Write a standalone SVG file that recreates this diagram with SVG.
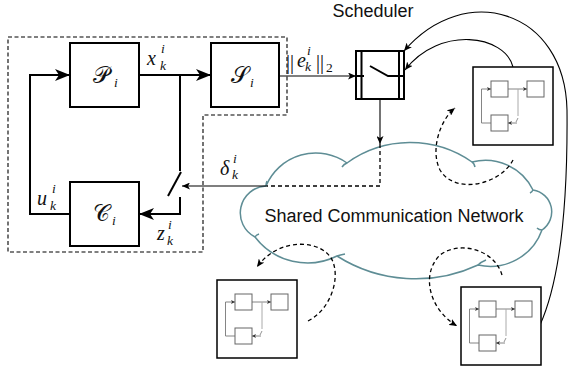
<svg xmlns="http://www.w3.org/2000/svg" width="569" height="373" viewBox="0 0 569 373">
  <style>
    .sans { font-family: "Liberation Sans", Arial, sans-serif; fill: #111; }
    .math { font-family: "Liberation Serif", "DejaVu Serif", serif; font-style: italic; fill: #111; font-size: 20px; }
    .cal { font-family: "DejaVu Serif", "Liberation Serif", serif; fill: #111; font-size: 23px; }
    .up { font-style: normal; }
    .s { font-size: 13.5px; }
    .box { fill: #fff; stroke: #000; stroke-width: 2; }
    .thick { fill: none; stroke: #000; stroke-width: 2; }
    .thin { fill: none; stroke: #000; stroke-width: 1.1; }
    .dash { fill: none; stroke: #000; stroke-width: 1.3; stroke-dasharray: 4 3; }
    .bound { fill: none; stroke: #000; stroke-width: 1.1; stroke-dasharray: 4 2.5; }
    .cloud { fill: #fff; stroke: #5e8d95; stroke-width: 1.5; }
    .cloudtail { fill: none; stroke: #5e8d95; stroke-width: 1.5; }
    .mini { fill: #fff; stroke: #666; stroke-width: 1; }
    .miniline { fill: none; stroke: #777; stroke-width: 0.9; }
  </style>
  <defs>
    <!-- large stealth head for the loop signals -->
    <marker id="big" viewBox="0 0 15 12" refX="15" refY="6" markerWidth="15" markerHeight="12" markerUnits="userSpaceOnUse" orient="auto">
      <path d="M15,6 L0,0 L4,6 L0,12 Z" fill="#000"/>
    </marker>
    <!-- small head for thin links -->
    <marker id="small" viewBox="0 0 8 7" refX="8" refY="3.5" markerWidth="8" markerHeight="7" markerUnits="userSpaceOnUse" orient="auto">
      <path d="M8,3.5 L0,0 L2,3.5 L0,7 Z" fill="#000"/>
    </marker>
    <marker id="tiny" viewBox="0 0 4 4" refX="4" refY="2" markerWidth="4" markerHeight="4" markerUnits="userSpaceOnUse" orient="auto">
      <path d="M4,2 L0,0 L1,2 L0,4 Z" fill="#333"/>
    </marker>
    <!-- miniature control loop used for the other agents -->
    <symbol id="subloop" viewBox="0 0 80 78" width="80" height="78" overflow="visible">
      <rect x="0" y="0" width="80" height="78" fill="#fff" stroke="#000" stroke-width="1.5"/>
      <path class="miniline" d="M18,56 H8.5 V22 H18" marker-end="url(#tiny)"/>
      <path class="miniline" d="M35,22 H54" marker-end="url(#tiny)"/>
      <path d="M45,22 V49" fill="none" stroke="#aaa" stroke-width="1"/>
      <path d="M45,51 L43,55" fill="none" stroke="#777" stroke-width="0.8"/>
      <path class="miniline" d="M44,56 H35" marker-end="url(#tiny)"/>
      <rect class="mini" x="18" y="14" width="17" height="16"/>
      <rect class="mini" x="54" y="14" width="17" height="16"/>
      <rect class="mini" x="18" y="48" width="17" height="16"/>
    </symbol>
  </defs>

  <!-- shared network cloud -->
  <g id="network">
    <path class="cloud" d="M266,186 A54,54 0 0 1 347,163 A108,108 0 0 1 472,162 A53,53 0 0 1 533,190 A22,22 0 0 1 542,230 A55,55 0 0 1 478,265 A147,147 0 0 1 337,256 A66,66 0 0 1 255,237 A27,27 0 0 1 266,186 Z"/>
    <path class="cloudtail" d="M347,163 q-3,1 -5,4 M472,162 q2,1 3,5 M533,190 q-1,2 -3,3 M542,230 q-3,0 -5,-2 M478,265 q3,-3 8,-5 M337,256 q3,-1 8,-2 M255,237 q1,-2 4,-3 M266,186 q0,-3 1,-5"/>
    <text class="sans" x="394" y="222" font-size="18" text-anchor="middle">Shared Communication Network</text>
  </g>

  <!-- boundary of the local control loop -->
  <path class="bound" d="M8,37 H287 V115 H203 V252 H8 Z"/>

  <g id="connectors">
    <path class="thick" d="M70,214 H30 V75 H70" marker-end="url(#big)"/>
    <path class="thick" d="M139,75 H211" marker-end="url(#big)"/>
    <path class="thick" d="M180,75 V171"/>
    <path class="thick" d="M181,172 L168,196"/>
    <path class="thick" d="M180,197 V214 H139" marker-end="url(#big)"/>
    <path class="thin" d="M279,76 H356" marker-end="url(#small)"/>
    <path class="thin" d="M380,99 V144" stroke-width="1.3" marker-end="url(#small)"/>
    <path class="dash" d="M380,144 V186 H267"/>
    <path class="thin" d="M267,186 H182" marker-end="url(#small)"/>
    <path class="thin" d="M540,325 C558,285 568,220 567,110 C565,10 465,-20 404,51" marker-end="url(#small)"/>
    <path class="thin" d="M513,67 C505,35 440,25 405,70" marker-end="url(#small)"/>
    <path class="dash" d="M513,160 C500,185 455,195 440,170 C430,150 440,120 455,108" marker-end="url(#small)"/>
    <path class="dash" d="M308,321 C330,310 340,280 333,262 C325,240 280,235 257,267" marker-end="url(#small)"/>
    <path class="dash" d="M502,275 C495,250 460,240 440,255 C420,275 430,310 457,326" marker-end="url(#small)"/>
  </g>

  <g id="plant">
    <rect class="box" x="70" y="43" width="69" height="64"/>
    <text class="cal" x="93" y="83">𝒫</text>
    <text class="math s" x="114" y="87">i</text>
  </g>
  <g id="sensor">
    <rect class="box" x="211" y="43" width="68" height="64"/>
    <text class="cal" x="231" y="83">𝒮</text>
    <text class="math s" x="250" y="87">i</text>
  </g>
  <g id="controller">
    <rect class="box" x="70" y="182" width="69" height="64"/>
    <text class="cal" x="93" y="221">𝒞</text>
    <text class="math s" x="112" y="225">i</text>
  </g>

  <g id="scheduler">
    <rect class="box" x="356" y="51" width="48" height="48"/>
    <path class="thick" d="M361.5,51 V99 M399,51 V99"/>
    <path class="thick" d="M356,76 H364 M370,66 L388,76 H404"/>
    <text class="sans" x="373" y="17" font-size="18" text-anchor="middle">Scheduler</text>
  </g>

  <g id="labels">
    <text class="math" x="147" y="65">x</text>
    <text class="math s" x="161" y="53">i</text>
    <text class="math s" x="160" y="70">k</text>
    <text class="math" x="37" y="205">u</text>
    <text class="math s" x="52" y="193">i</text>
    <text class="math s" x="50" y="210">k</text>
    <text class="math" x="157" y="240">z</text>
    <text class="math s" x="168" y="229">i</text>
    <text class="math s" x="167" y="245">k</text>
    <text class="math" x="220" y="175">δ</text>
    <text class="math s" x="233" y="163">i</text>
    <text class="math s" x="232" y="179">k</text>
    <text class="math up" x="286" y="69">||</text>
    <text class="math" x="297" y="67">e</text>
    <text class="math s" x="307" y="55">i</text>
    <text class="math s" x="305" y="71">k</text>
    <text class="math up" x="316" y="69">||</text>
    <text class="math up s" x="326" y="72">2</text>
  </g>

  <g id="agent-a"><use href="#subloop" x="473" y="67"/></g>
  <g id="agent-b"><use href="#subloop" x="217" y="280"/></g>
  <g id="agent-c"><use href="#subloop" x="461" y="287"/></g>
</svg>
